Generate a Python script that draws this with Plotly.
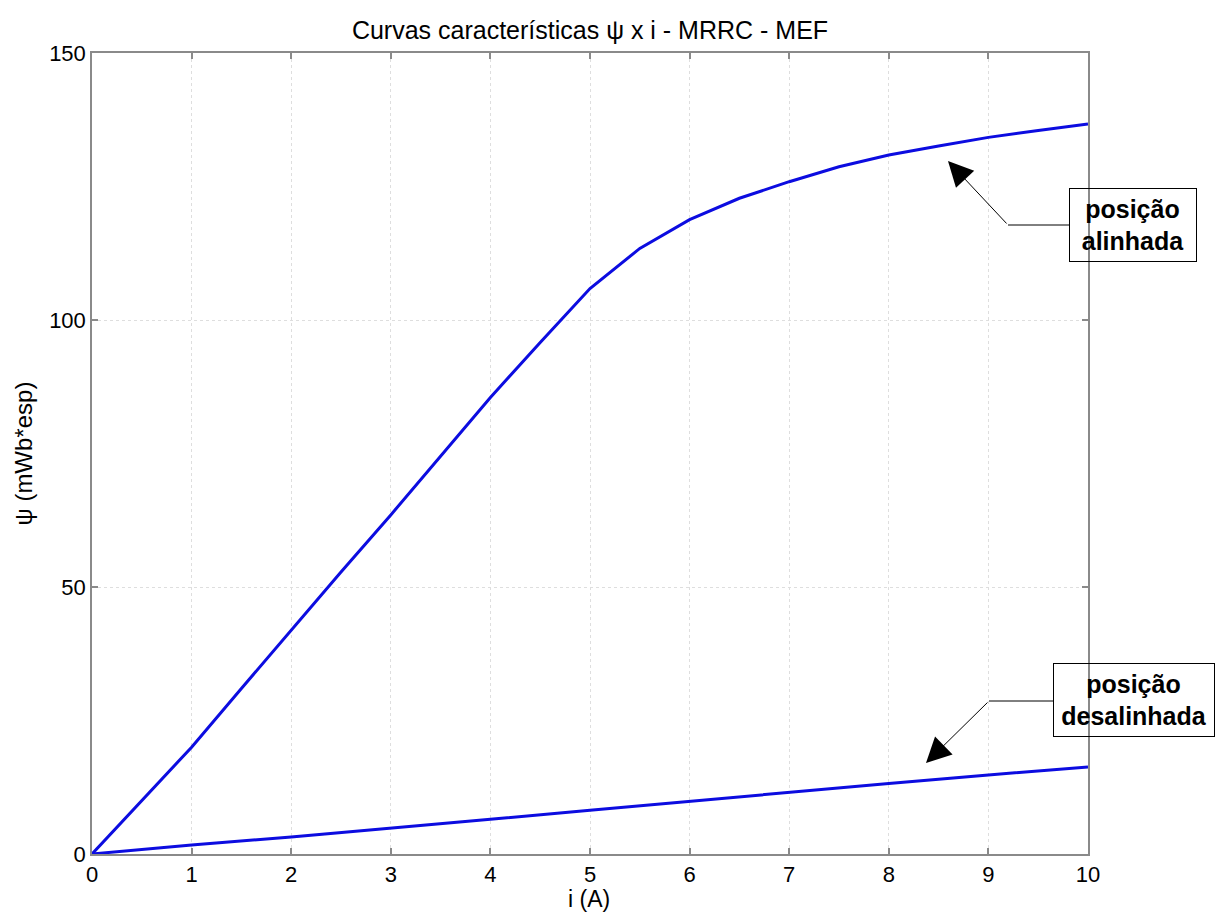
import plotly.graph_objects as go

# Data
current_A = [0, 0.5, 1, 1.5, 2, 2.5, 3, 3.5, 4, 4.5, 5, 5.5, 6, 6.5, 7, 7.5, 8, 8.5, 9, 9.5, 10]
psi_aligned = [0, 10.0, 20.0, 31.0, 42.0, 52.8, 63.5, 74.5, 85.5, 95.8, 105.9, 113.4, 118.8, 122.8, 125.9, 128.7, 130.9, 132.6, 134.2, 135.5, 136.7]
current_un = [0, 0.5, 1, 2, 3, 4, 5, 6, 7, 8, 9, 10]
psi_unaligned = [0, 0.9, 1.7, 3.2, 4.8, 6.5, 8.2, 9.9, 11.6, 13.2, 14.8, 16.3]

x_ticks = list(range(0, 11))
y_ticks = [0, 50, 100, 150]

FONT = "Arial, Liberation Sans, sans-serif"
W, H = 1217, 914
# page coordinates of the plot area
L, R, T, B = 92, 1088, 53, 854

def px(xp):
    return (xp - L) / (R - L)

def py(yp):
    return (B - yp) / (B - T)

def dx(xp):
    return (xp - L) / (R - L) * 10

def dy(yp):
    return (B - yp) / (B - T) * 150

fig = go.Figure()
fig.add_trace(go.Scatter(x=current_A, y=psi_aligned, mode="lines",
                         line=dict(color="#0c0ce0", width=3), showlegend=False))
fig.add_trace(go.Scatter(x=current_un, y=psi_unaligned, mode="lines",
                         line=dict(color="#0c0ce0", width=3), showlegend=False))

axis_common = dict(
    showline=True, linecolor="#8a8a8a", linewidth=1.5, mirror="ticks",
    ticks="inside", ticklen=6, tickcolor="#8a8a8a", tickwidth=1.5,
    showgrid=True, gridcolor="#dedede", griddash="dot", gridwidth=1,
    zeroline=False, automargin=False,
    tickfont=dict(family=FONT, size=22, color="black"),
)

fig.update_xaxes(range=[0, 10], tickvals=x_ticks, ticktext=[str(v) for v in x_ticks],
                 **axis_common)
fig.update_yaxes(range=[0, 150], tickvals=y_ticks, ticktext=[str(v) for v in y_ticks],
                 title=dict(text="ψ (mWb*esp)", font=dict(family=FONT, size=24, color="black"), standoff=10),
                 **axis_common)

# x-axis title as annotation (placed below tick labels)
fig.add_annotation(x=px(589), y=py(899), xref="paper", yref="paper",
                   xanchor="center", yanchor="middle", showarrow=False,
                   text="i (A)", font=dict(family=FONT, size=23, color="black"))

# Connector horizontal segments (paper coords)
fig.add_shape(type="line", xref="paper", yref="paper",
              x0=px(1008), y0=py(225), x1=px(1069), y1=py(225),
              line=dict(color="black", width=1))
fig.add_shape(type="line", xref="paper", yref="paper",
              x0=px(989), y0=py(701), x1=px(1053), y1=py(701),
              line=dict(color="black", width=1))

# Arrows (data coords)
fig.add_annotation(x=dx(948), y=dy(161), ax=dx(1008), ay=dy(225), axref="x", ayref="y",
                   xref="x", yref="y", text="", showarrow=True, arrowhead=2,
                   arrowsize=5, arrowwidth=1, arrowcolor="black")
fig.add_annotation(x=dx(926), y=dy(763), ax=dx(989), ay=dy(701), axref="x", ayref="y",
                   xref="x", yref="y", text="", showarrow=True, arrowhead=2,
                   arrowsize=5, arrowwidth=1, arrowcolor="black")

# Text boxes
fig.add_annotation(x=px(1069), y=py(188), xref="paper", yref="paper",
                   xanchor="left", yanchor="top", showarrow=False,
                   text="<b>posição<br>alinhada</b>", align="center",
                   font=dict(family=FONT, size=25, color="black"),
                   bordercolor="black", borderwidth=1, borderpad=3,
                   bgcolor="rgba(0,0,0,0)", width=120, height=66)
fig.add_annotation(x=px(1053), y=py(663), xref="paper", yref="paper",
                   xanchor="left", yanchor="top", showarrow=False,
                   text="<b>posição<br>desalinhada</b>", align="center",
                   font=dict(family=FONT, size=25, color="black"),
                   bordercolor="black", borderwidth=1, borderpad=3,
                   bgcolor="rgba(0,0,0,0)", width=154, height=66)

fig.update_layout(
    width=W, height=H,
    margin=dict(l=L, r=W - R, t=T, b=H - B),
    paper_bgcolor="white", plot_bgcolor="white",
    title=dict(text="Curvas características ψ x i - MRRC - MEF",
               font=dict(family=FONT, size=25, color="black"),
               xref="paper", x=px(590), xanchor="center",
               y=1 - 30 / H, yanchor="middle"),
)

fig.write_html("out.html",
               config={"displayModeBar": False},
               post_script="document.body.style.margin='0';document.body.style.overflow='hidden';")
